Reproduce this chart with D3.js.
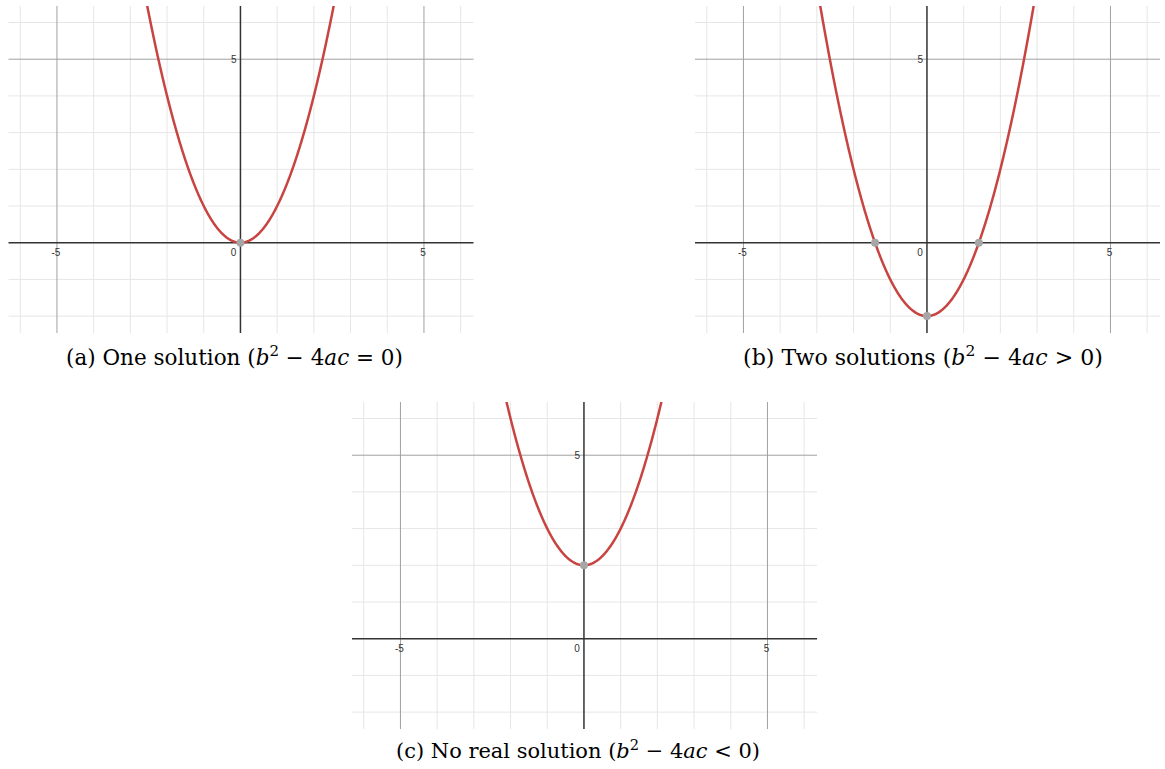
<!DOCTYPE html>
<html>
<head>
<meta charset="utf-8">
<script src="https://cdn.jsdelivr.net/npm/d3@7"></script>
<style>
  html, body { margin: 0; padding: 0; background: #fff; }
  svg { display: block; }
</style>
</head>
<body>
<svg id="fig" width="1165" height="769"></svg>
<script>
// Quadratics y = a x^2 + b x + c, one per sub-figure
const panelIds = ["a", "b", "c"];
const coefA = [1, 1, 1];
const coefB = [0, 0, 0];
const coefC = [0, -2, 2];
// x positions of the marked points (vertex / roots)
const markedX = [[0], [-1.414, 0, 1.414], [0]];
// caption pieces
const captionLabels = ["One solution", "Two solutions", "No real solution"];
const captionRelations = ["=", ">", "<"];
// axis labels
const xTickValues = [-5, 0, 5];
const yTickValues = [5];
const xDomain = [-6.32, 6.35];
const yDomain = [-2.46, 6.45];

const svg = d3.select("#fig");
const W = 465, H = 327;
const layout = [
  { x: 8.5, y: 6, capX: 234.5, capY: 365, capW: 337 },
  { x: 695, y: 6, capX: 923, capY: 365, capW: 360 },
  { x: 352, y: 402, capX: 578, capY: 758, capW: 364 }
];

const x = d3.scaleLinear().domain(xDomain).range([0, W]);
const y = d3.scaleLinear().domain(yDomain).range([H, 0]);

panelIds.forEach((id, i) => {
  const L = layout[i];
  const g = svg.append("g").attr("transform", `translate(${L.x},${L.y})`);
  const clipId = "clip-" + id;
  g.append("clipPath").attr("id", clipId)
    .append("rect").attr("width", W).attr("height", H);

  const xInts = d3.range(Math.ceil(xDomain[0]), Math.floor(xDomain[1]) + 1);
  const yInts = d3.range(Math.ceil(yDomain[0]), Math.floor(yDomain[1]) + 1);

  // minor grid
  g.append("g").selectAll("line").data(xInts.filter(v => v % 5 !== 0)).join("line")
    .attr("x1", d => x(d)).attr("x2", d => x(d)).attr("y1", 0).attr("y2", H)
    .attr("stroke", "#e6e6e6").attr("stroke-width", 1);
  g.append("g").selectAll("line").data(yInts.filter(v => v % 5 !== 0)).join("line")
    .attr("y1", d => y(d)).attr("y2", d => y(d)).attr("x1", 0).attr("x2", W)
    .attr("stroke", "#e6e6e6").attr("stroke-width", 1);
  // major grid
  g.append("g").selectAll("line").data(xInts.filter(v => v % 5 === 0 && v !== 0)).join("line")
    .attr("x1", d => x(d)).attr("x2", d => x(d)).attr("y1", 0).attr("y2", H)
    .attr("stroke", "#a0a0a0").attr("stroke-width", 1);
  g.append("g").selectAll("line").data(yInts.filter(v => v % 5 === 0 && v !== 0)).join("line")
    .attr("y1", d => y(d)).attr("y2", d => y(d)).attr("x1", 0).attr("x2", W)
    .attr("stroke", "#a0a0a0").attr("stroke-width", 1);
  // axes
  g.append("line").attr("x1", 0).attr("x2", W).attr("y1", y(0)).attr("y2", y(0))
    .attr("stroke", "#333").attr("stroke-width", 1.5);
  g.append("line").attr("x1", x(0)).attr("x2", x(0)).attr("y1", 0).attr("y2", H)
    .attr("stroke", "#333").attr("stroke-width", 1.5);

  // tick labels
  const lab = g.append("g").attr("font-family", "'Liberation Sans', Arial, sans-serif")
    .attr("font-size", 10).attr("fill", "#333");
  lab.selectAll("text.xt").data(xTickValues).join("text").attr("class", "xt")
    .attr("x", d => d === 0 ? x(0) - 7 : x(d) - 1)
    .attr("y", y(0) + 13.5)
    .attr("text-anchor", "middle")
    .text(d => d);
  lab.selectAll("text.yt").data(yTickValues).join("text").attr("class", "yt")
    .attr("x", x(0) - 4).attr("y", d => y(d) + 3.5)
    .attr("text-anchor", "end")
    .text(d => d);

  // parabola
  const f = v => coefA[i] * v * v + coefB[i] * v + coefC[i];
  const xs = d3.range(xDomain[0], xDomain[1] + 0.01, 0.01);
  const line = d3.line().x(d => x(d)).y(d => y(f(d)));
  g.append("path").attr("clip-path", `url(#${clipId})`)
    .datum(xs).attr("d", line)
    .attr("fill", "none").attr("stroke", "#c74440").attr("stroke-width", 2.5);

  // marked points
  g.selectAll("circle").data(markedX[i]).join("circle")
    .attr("cx", d => x(d)).attr("cy", d => y(f(d))).attr("r", 4)
    .attr("fill", "#a6a6a6");

  // caption, sized to its measured width
  const base = 20;
  const t = svg.append("text").attr("x", L.capX).attr("y", L.capY)
    .attr("text-anchor", "middle")
    .attr("font-family", "'DejaVu Serif', 'Liberation Serif', serif")
    .attr("font-size", base).attr("fill", "#000");
  t.append("tspan").text(`(${id}) ${captionLabels[i]} (`);
  t.append("tspan").attr("font-style", "italic").text("b");
  const sup = t.append("tspan").attr("font-size", base * 0.7).attr("dy", -base * 0.4).text("2");
  const rest = t.append("tspan").attr("dy", base * 0.4).text(" \u2212 4");
  t.append("tspan").attr("font-style", "italic").text("ac");
  t.append("tspan").text(` ${captionRelations[i]} 0)`);
  const w = t.node().getComputedTextLength();
  const s = base * L.capW / w;
  t.attr("font-size", s);
  sup.attr("font-size", s * 0.7).attr("dy", -s * 0.4);
  rest.attr("dy", s * 0.4);
});
</script>
</body>
</html>
